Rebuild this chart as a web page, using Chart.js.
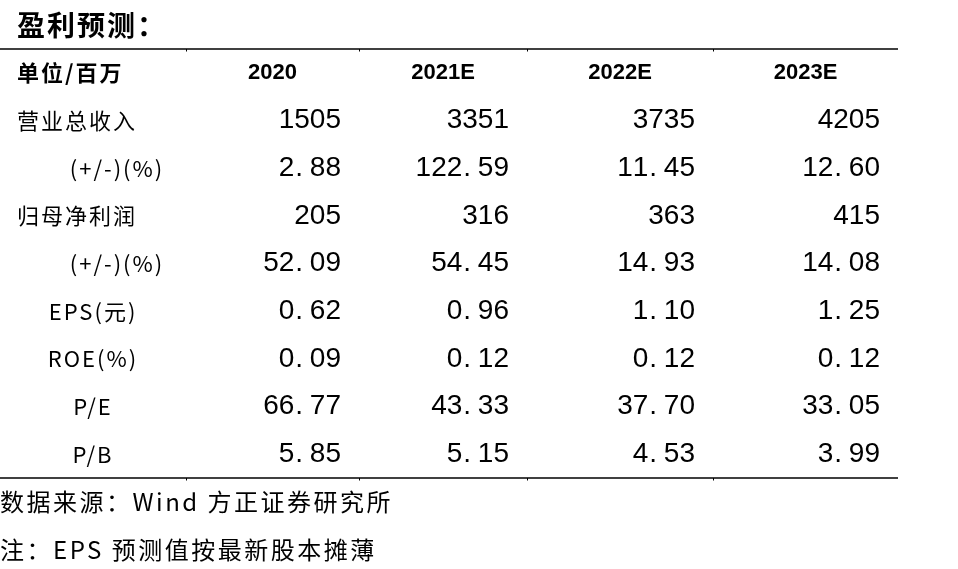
<!DOCTYPE html>
<html>
<head>
<meta charset="utf-8">
<script src="https://cdn.jsdelivr.net/npm/chart.js@4.4.0/dist/chart.umd.min.js"></script>
<style>
  html, body { margin: 0; padding: 0; background: #fff; }
  canvas { display: block; }
</style>
</head>
<body>
<canvas id="forecastTable" width="958" height="569"></canvas>
<script>
const title = "盈利预测：";
const unitLabel = "单位/百万";
const years = ["2020", "2021E", "2022E", "2023E"];
const rowLabels = ["营业总收入", "\u3000\u3000(+/-)(%)", "归母净利润", "\u3000\u3000(+/-)(%)", "EPS(元)", "ROE(%)", "P/E", "P/B"];
const rowDecimals = [0, 2, 0, 2, 2, 2, 2, 2];
const values2020 = [1505, 2.88, 205, 52.09, 0.62, 0.09, 66.77, 5.85];
const values2021E = [3351, 122.59, 316, 54.45, 0.96, 0.12, 43.33, 5.15];
const values2022E = [3735, 11.45, 363, 14.93, 1.10, 0.12, 37.70, 4.53];
const values2023E = [4205, 12.60, 415, 14.08, 1.25, 0.12, 33.05, 3.99];
const notes = ["数据来源：Wind 方正证券研究所", "注：EPS 预测值按最新股本摊薄"];

// ---- table layout ----
const colWidths = [186, 173, 168, 186, 185];
const colEdges = colWidths.reduce((acc, w) => { acc.push(acc[acc.length - 1] + w); return acc; }, [0]);
const allValues = [values2020, values2021E, values2022E, values2023E];
// one category per table row (header first); keys kept unique
const rowKeys = [unitLabel].concat(rowLabels.map((l, i) => l.trim() + "#" + i));

const CJK = '"Noto Sans CJK SC", sans-serif';
const NUM = '"Liberation Sans", Arial, sans-serif';

function setSpacing(ctx, s) {
  if ("letterSpacing" in ctx) ctx.letterSpacing = s;
}

// digits drawn on a fixed pitch, like the original half-width font
function drawMono(ctx, text, right, cy) {
  const w = ctx.measureText("0").width;
  let pos = right - w * text.length;
  for (const ch of text) {
    if (ch === ".") {
      ctx.textAlign = "left";
      ctx.fillText(ch, pos + 1, cy);
    } else {
      ctx.textAlign = "center";
      ctx.fillText(ch, pos + w / 2, cy);
    }
    pos += w;
  }
}

const tablePlugin = {
  id: "tableText",
  afterDatasetsDraw(chart) {
    const { ctx, chartArea, scales: { x, y } } = chart;
    const pitch = y.getPixelForValue(1) - y.getPixelForValue(0);
    const left = x.getPixelForValue(0);
    const right = x.getPixelForValue(colEdges[colEdges.length - 1]);
    const pad = 17;

    ctx.save();
    ctx.fillStyle = "#000";
    ctx.strokeStyle = "#000";
    ctx.textBaseline = "middle";

    // title
    ctx.font = "bold 28px " + CJK;
    setSpacing(ctx, "2px");
    ctx.textAlign = "left";
    ctx.fillText(title, left + pad, chartArea.top - pitch / 2);

    // rules
    [chartArea.top, chartArea.bottom].forEach(yy => {
      ctx.lineWidth = 1.5;
      ctx.beginPath();
      ctx.moveTo(left, yy);
      ctx.lineTo(right, yy);
      ctx.stroke();
      ctx.lineWidth = 1;
      colEdges.slice(1, -1).forEach(e => {
        const xx = Math.round(x.getPixelForValue(e)) + 0.5;
        ctx.beginPath();
        ctx.moveTo(xx, yy);
        ctx.lineTo(xx, yy + 2.5);
        ctx.stroke();
      });
    });

    // header row
    const yHead = y.getPixelForValue(0);
    ctx.font = "bold 22px " + CJK;
    setSpacing(ctx, "2px");
    ctx.textAlign = "left";
    ctx.fillText(unitLabel, left + pad, yHead);
    ctx.font = "bold 22px " + NUM;
    setSpacing(ctx, "0px");
    ctx.textAlign = "center";
    years.forEach((yr, c) => {
      const cx = x.getPixelForValue((colEdges[c + 1] + colEdges[c + 2]) / 2);
      ctx.fillText(yr, cx, yHead);
    });

    // row labels
    ctx.font = "22px " + CJK;
    setSpacing(ctx, "2px");
    rowLabels.forEach((lab, r) => {
      const yy = y.getPixelForValue(r + 1);
      if (/^[\u4e00-\u9fff]/.test(lab)) {
        ctx.textAlign = "left";
        ctx.fillText(lab, left + pad, yy);
      } else {
        ctx.textAlign = "center";
        ctx.fillText(lab, x.getPixelForValue(colEdges[1] / 2), yy);
      }
    });

    // values, one cell per scatter point
    ctx.font = "28px " + NUM;
    setSpacing(ctx, "0px");
    chart.data.datasets.forEach((ds, c) => {
      chart.getDatasetMeta(c).data.forEach((pt, r) => {
        const txt = ds.data[r].v.toFixed(rowDecimals[r]);
        drawMono(ctx, txt, pt.x - 18, pt.y);
      });
    });

    // notes under the table
    ctx.font = "24px " + CJK;
    setSpacing(ctx, "2.5px");
    ctx.textAlign = "left";
    notes.forEach((n, i) => {
      ctx.fillText(n, left, chartArea.bottom + pitch * (i + 0.5));
    });

    ctx.restore();
  }
};

new Chart(document.getElementById("forecastTable"), {
  type: "scatter",
  data: {
    datasets: years.map((yr, c) => ({
      label: yr,
      data: allValues[c].map((v, r) => ({ x: colEdges[c + 2], y: rowKeys[r + 1], v: v })),
      pointRadius: 0,
      pointHoverRadius: 0
    }))
  },
  options: {
    responsive: false,
    animation: false,
    events: [],
    layout: { padding: { left: 0, right: 60, top: 49, bottom: 91 } },
    plugins: {
      legend: { display: false },
      tooltip: { enabled: false }
    },
    scales: {
      x: { type: "linear", display: false, min: 0, max: colEdges[colEdges.length - 1] },
      y: { type: "category", display: false, offset: true, labels: rowKeys }
    }
  },
  plugins: [tablePlugin]
});
</script>
</body>
</html>
